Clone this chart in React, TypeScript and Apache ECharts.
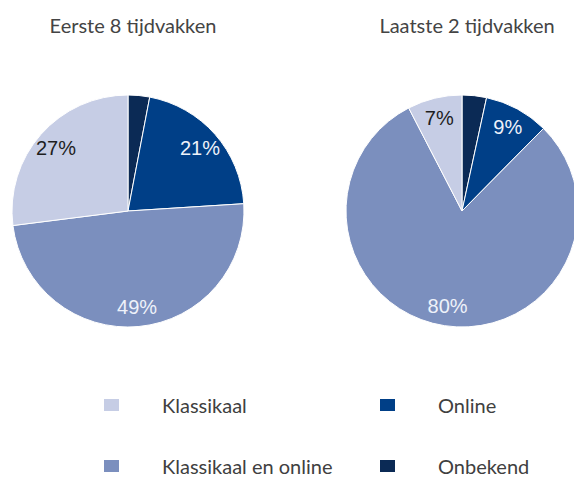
import React, { useEffect, useRef } from "react";
import * as echarts from "echarts";

const categories = ["Onbekend", "Online", "Klassikaal en online", "Klassikaal"];
const firstValues = [3, 21, 49, 27];
const lastValues = [3.4, 9, 80, 7.6];
const firstLabels = ["", "21%", "49%", "27%"];
const lastLabels = ["", "9%", "80%", "7%"];
const titles = ["Eerste 8 tijdvakken", "Laatste 2 tijdvakken"];
const legendOrder = ["Klassikaal", "Online", "Klassikaal en online", "Onbekend"];

const colors: Record<string, string> = {
  Onbekend: "#0b2a55",
  Online: "#003f87",
  "Klassikaal en online": "#7b8fbe",
  Klassikaal: "#c6cde5",
};
const labelColors: Record<string, string> = {
  Onbekend: "#ffffff",
  Online: "#eef2fa",
  "Klassikaal en online": "#eef2fa",
  Klassikaal: "#1e1e1e",
};

function mainData(values: number[]) {
  return categories.map((name, i) => ({
    name,
    value: values[i],
    itemStyle: { color: colors[name] },
  }));
}
function labelData(values: number[], labels: string[]) {
  return categories.map((name, i) => ({
    name,
    value: values[i],
    itemStyle: { color: "transparent", borderWidth: 0 },
    label: { show: labels[i] !== "", color: labelColors[name], formatter: labels[i] },
  }));
}

export default function App() {
  const ref = useRef<HTMLDivElement>(null);
  useEffect(() => {
    document.body.style.margin = "0";
    const chart = echarts.init(ref.current!, null, { renderer: "svg" });
    const centers: [number, number][] = [
      [128, 211],
      [462, 211],
    ];
    const R = 116;
    const mainSeries = [firstValues, lastValues].map((vals, k) => ({
      type: "pie",
      center: centers[k],
      radius: [0, R],
      startAngle: 90,
      clockwise: true,
      silent: true,
      label: { show: false },
      labelLine: { show: false },
      itemStyle: { borderColor: "#ffffff", borderWidth: 1 },
      data: mainData(vals),
    }));
    const labelSeries = [
      [firstValues, firstLabels],
      [lastValues, lastLabels],
    ].map(([vals, labs], k) => ({
      type: "pie",
      center: centers[k],
      radius: [70, R],
      startAngle: 90,
      clockwise: true,
      silent: true,
      legendHoverLink: false,
      label: {
        show: true,
        position: "inside",
        fontFamily: "Liberation Sans",
        fontSize: 20,
      },
      labelLine: { show: false },
      data: labelData(vals as number[], labs as string[]),
    }));
    const legendLefts = [102, 378];
    const legendTops = [393, 454];
    const legends = legendOrder.map((name, i) => ({
      orient: "horizontal",
      icon: "rect",
      itemWidth: 17,
      itemHeight: 14,
      selectedMode: false,
      left: legendLefts[i % 2],
      top: legendTops[Math.floor(i / 2)],
      padding: 0,
      data: [name],
      textStyle: {
        fontFamily: "Lato",
        fontSize: 20,
        lineHeight: 24,
        color: "#404040",
        padding: [0, 0, 0, 37],
      },
    }));
    chart.setOption({
      animation: false,
      backgroundColor: "#ffffff",
      title: titles.map((t, k) => ({
        text: t,
        left: centers[k][0],
        top: 10,
        textAlign: "center",
        textStyle: {
          fontFamily: "Lato",
          fontSize: 20,
          fontWeight: "normal",
          color: "#444444",
        },
      })),
      legend: legends,
      series: [...mainSeries, ...labelSeries],
    });
    return () => chart.dispose();
  }, []);
  return <div ref={ref} style={{ width: 574, height: 477 }} />;
}
